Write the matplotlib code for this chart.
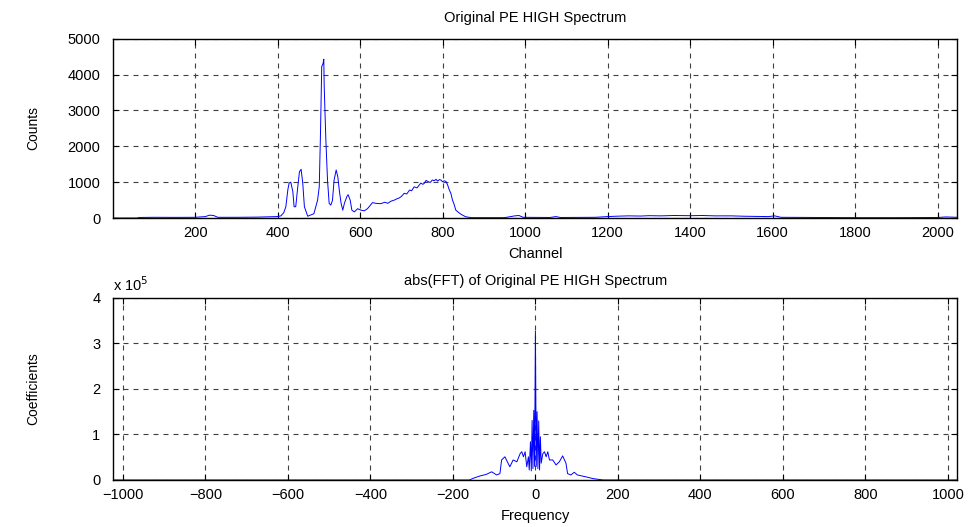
import matplotlib.pyplot as plt
from matplotlib.ticker import FuncFormatter

plt.rcParams['font.family'] = ['Liberation Sans', 'DejaVu Sans']

# spectrum points (channel, counts)
channel = [1, 60, 64, 100, 150, 200, 225, 235, 245, 255, 300, 350, 380, 400,
           408, 415, 420, 425, 428, 432, 437, 440, 444, 449, 453, 457, 461,
           465, 473, 488, 497, 501, 504, 507, 510, 512, 513, 517, 521, 525,
           529, 533, 537, 542, 546, 550, 554, 558, 562, 568, 571, 576, 580,
           586, 594, 602, 610, 618, 630, 638, 650, 660, 667, 675, 683, 690,
           695, 700, 707, 713, 720, 725, 731, 738, 747, 752, 755, 760, 764,
           770, 775, 780, 784, 788, 792, 796, 800, 804, 808, 812, 816, 820,
           824, 828, 832, 838, 844, 850, 856, 870, 950, 975, 985, 995, 1060,
           1075, 1085, 1170, 1200, 1220, 1250, 1280, 1300, 1330, 1360, 1400,
           1430, 1460, 1500, 1530, 1560, 1590, 1605, 1620, 1700, 1800, 1900,
           2000, 2020, 2048]
counts = [0, 0, 15, 20, 18, 20, 40, 80, 70, 20, 20, 25, 35, 40,
          60, 150, 315, 800, 975, 1000, 735, 315, 315, 875, 1290, 1360, 975,
          315, 50, 120, 500, 870, 2365, 4225, 4300, 4430, 3670, 2180, 1060, 410,
          360, 490, 1060, 1340, 1150, 735, 410, 220, 410, 600, 650, 500, 220,
          170, 260, 220, 200, 260, 430, 410, 400, 440, 410, 470, 500, 540,
          560, 600, 690, 670, 780, 760, 870, 840, 975, 940, 960, 1050, 1020,
          990, 1060, 1040, 1080, 1030, 1070, 1060, 1010, 1040, 1020, 930, 790,
          690, 500, 380, 220, 160, 110, 70, 35, 10, 10, 60, 70, 20, 15,
          40, 15, 20, 40, 50, 60, 55, 65, 60, 70, 65,
          70, 60, 60, 50, 45, 40, 60, 20, 15, 10, 10,
          15, 30, 20]

# abs(FFT) points (frequency, coefficient)
freq = [-1024, -160, -150, -134, -120, -106, -94, -86, -82, -74, -68, -62,
        -54, -45, -37, -33, -29, -25, -21, -17, -15, -12, -10, -8, -6, -4,
        -2, 0, 2, 4, 6, 8, 10, 12, 14, 18, 22, 26, 30, 34, 42, 50, 58, 66,
        74, 78, 86, 94, 102, 122, 140, 156, 165, 1023]
coeff = [0, 0, 0.04e5, 0.09e5, 0.12e5, 0.18e5, 0.11e5, 0.14e5, 0.44e5,
         0.51e5, 0.40e5, 0.29e5, 0.44e5, 0.40e5, 0.58e5, 0.62e5, 0.51e5,
         0.62e5, 0.29e5, 0.51e5, 0.22e5, 0.84e5, 0.20e5, 1.31e5, 0.25e5,
         1.53e5, 0.30e5, 3.27e5, 0.30e5, 1.50e5, 0.25e5, 1.30e5, 0.22e5,
         0.95e5, 0.37e5, 0.58e5, 0.62e5, 0.51e5, 0.62e5, 0.44e5, 0.44e5,
         0.33e5, 0.40e5, 0.53e5, 0.37e5, 0.14e5, 0.11e5, 0.17e5, 0.11e5,
         0.07e5, 0.03e5, 0.01e5, 0, 0]


def matlab_style(ax):
    ax.grid(True, color='0.25', linestyle=(0, (4.5, 4.5)), linewidth=0.8)
    ax.tick_params(direction='in', top=True, right=True, length=4,
                   labelsize=10.5, width=0.8)
    ax.tick_params(axis='x', pad=6)
    ax.tick_params(axis='y', pad=9)
    ax.yaxis.set_label_coords(-0.086, 0.5)
    for s in ax.spines.values():
        s.set_linewidth(1.0)


fig = plt.figure(figsize=(9.74, 5.27), dpi=100)
ax1 = fig.add_axes([0.116, 0.5863, 0.867, 0.3402])
ax2 = fig.add_axes([0.116, 0.0892, 0.867, 0.3454])

ax1.plot(channel, counts, color='blue', linewidth=0.7)
ax1.set_xlim(1, 2048)
ax1.set_ylim(0, 5000)
ax1.set_xticks(range(200, 2001, 200))
ax1.set_yticks(range(0, 5001, 1000))
ax1.set_title('Original PE HIGH Spectrum', fontsize=10.5, pad=12)
ax1.set_xlabel('Channel', fontsize=10.5, labelpad=5)
ax1.set_ylabel('Counts', fontsize=10)
matlab_style(ax1)

ax2.plot(freq, coeff, color='blue', linewidth=0.7)
ax2.set_xlim(-1024, 1023)
ax2.set_ylim(0, 4e5)
ax2.set_xticks(range(-1000, 1001, 200))
ax2.set_yticks([0, 1e5, 2e5, 3e5, 4e5])
ax2.yaxis.set_major_formatter(FuncFormatter(lambda v, p: f'{v / 1e5:g}'))
ax2.set_title('abs(FFT) of Original PE HIGH Spectrum', fontsize=10.5, pad=9)
ax2.set_xlabel('Frequency', fontsize=10.5, labelpad=5)
ax2.set_ylabel('Coefficients', fontsize=10)
ax2.text(0.0, 1.02, 'x 10$^5$', transform=ax2.transAxes, fontsize=10.5,
         ha='left', va='bottom')
matlab_style(ax2)

fig.savefig('out.png', dpi=100)
